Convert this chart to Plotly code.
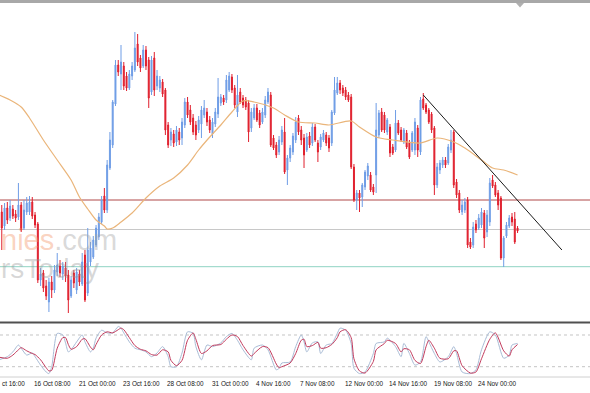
import plotly.graph_objects as go

# ---------------- data ----------------
bars = list(range(188))
opens = [1.1617,1.1588,1.1574,1.1592,1.1582,1.1591,1.1586,1.1583,1.1595,1.1572,
 1.1588,1.1588,1.1598,1.1585,1.1576,1.1520,1.1527,1.1514,1.1498,1.1518,
 1.1510,1.1528,1.1534,1.1526,1.1532,1.1525,1.1504,1.1527,1.1510,1.1526,
 1.1516,1.1545,1.1507,1.1538,1.1543,1.1555,1.1563,1.1578,1.1604,1.1590,
 1.1632,1.1655,1.1696,1.1735,1.1726,1.1734,1.1724,1.1712,1.1724,1.1730,
 1.1756,1.1742,1.1734,1.1750,1.1740,1.1708,1.1742,1.1714,1.1712,1.1718,
 1.1710,1.1675,1.1660,1.1666,1.1658,1.1668,1.1662,1.1675,1.1698,1.1690,
 1.1682,1.1675,1.1670,1.1676,1.1685,1.1688,1.1680,1.1666,1.1676,1.1686,
 1.1697,1.1702,1.1700,1.1710,1.1723,1.1712,1.1688,1.1708,1.1702,1.1700,
 1.1697,1.1672,1.1682,1.1692,1.1687,1.1678,1.1685,1.1698,1.1705,1.1662,
 1.1655,1.1648,1.1658,1.1668,1.1630,1.1642,1.1648,1.1660,1.1682,1.1670,
 1.1662,1.1650,1.1664,1.1657,1.1673,1.1657,1.1653,1.1660,1.1665,1.1662,
 1.1657,1.1687,1.1707,1.1717,1.1712,1.1710,1.1705,1.1703,1.1633,1.1600,
 1.1607,1.1603,1.1613,1.1624,1.1625,1.1613,1.1625,1.1665,1.1688,1.1685,
 1.1668,1.1673,1.1653,1.1650,1.1677,1.1670,1.1658,1.1667,1.1657,1.1650,
 1.1650,1.1672,1.1648,1.1701,1.1695,1.1690,1.1686,1.1672,1.1615,1.1630,
 1.1635,1.1640,1.1637,1.1650,1.1668,1.1618,1.1607,1.1588,1.1590,1.1600,
 1.1558,1.1555,1.1576,1.1572,1.1575,1.1587,1.1568,1.1578,1.1620,1.1615,
 1.1607,1.1602,1.1542,1.1564,1.1574,1.1583,1.1581,1.1572]
highs = [1.1622,1.1595,1.1597,1.1598,1.1600,1.1595,1.1590,1.1617,1.1598,1.1600,
 1.1603,1.1604,1.1603,1.1588,1.1578,1.1532,1.1530,1.1520,1.1522,1.1524,
 1.1535,1.1547,1.1540,1.1538,1.1538,1.1530,1.1524,1.1530,1.1532,1.1530,
 1.1547,1.1550,1.1572,1.1558,1.1564,1.1575,1.1587,1.1604,1.1612,1.1640,
 1.1668,1.1700,1.1740,1.1740,1.1755,1.1738,1.1728,1.1730,1.1738,1.1768,
 1.1766,1.1745,1.1755,1.1754,1.1743,1.1744,1.1748,1.1730,1.1724,1.1721,
 1.1712,1.1678,1.1672,1.1670,1.1674,1.1672,1.1682,1.1702,1.1703,1.1695,
 1.1686,1.1679,1.1684,1.1694,1.1700,1.1692,1.1684,1.1682,1.1692,1.1722,
 1.1706,1.1705,1.1725,1.1728,1.1726,1.1715,1.1725,1.1712,1.1705,1.1703,
 1.1700,1.1692,1.1696,1.1696,1.1690,1.1692,1.1704,1.1712,1.1708,1.1665,
 1.1658,1.1664,1.1674,1.1682,1.1645,1.1655,1.1667,1.1683,1.1685,1.1674,
 1.1666,1.1667,1.1668,1.1677,1.1676,1.1660,1.1666,1.1670,1.1668,1.1665,
 1.1690,1.1723,1.1723,1.1720,1.1715,1.1713,1.1708,1.1706,1.1636,1.1610,
 1.1610,1.1617,1.1630,1.1637,1.1628,1.1616,1.1697,1.1690,1.1692,1.1688,
 1.1682,1.1676,1.1656,1.1690,1.1680,1.1673,1.1672,1.1670,1.1660,1.1669,
 1.1682,1.1675,1.1703,1.1707,1.1697,1.1692,1.1688,1.1674,1.1637,1.1640,
 1.1643,1.1643,1.1656,1.1670,1.1670,1.1621,1.1610,1.1600,1.1602,1.1603,
 1.1562,1.1578,1.1580,1.1586,1.1592,1.1590,1.1590,1.1622,1.1625,1.1618,
 1.1610,1.1604,1.1564,1.1578,1.1585,1.1587,1.1588,1.1574]
lows = [1.1578,1.1550,1.1570,1.1576,1.1579,1.1581,1.1578,1.1580,1.1568,1.1570,
 1.1585,1.1585,1.1581,1.1572,1.1517,1.1514,1.1508,1.1500,1.1488,1.1502,
 1.1507,1.1524,1.1523,1.1520,1.1518,1.1487,1.1502,1.1512,1.1506,1.1514,
 1.1514,1.1498,1.1504,1.1534,1.1541,1.1553,1.1560,1.1576,1.1587,1.1587,
 1.1630,1.1652,1.1694,1.1724,1.1710,1.1710,1.1709,1.1710,1.1720,1.1728,
 1.1734,1.1728,1.1732,1.1730,1.1692,1.1705,1.1704,1.1710,1.1708,1.1703,
 1.1665,1.1652,1.1654,1.1653,1.1654,1.1655,1.1655,1.1672,1.1682,1.1675,
 1.1665,1.1660,1.1667,1.1662,1.1682,1.1674,1.1667,1.1662,1.1673,1.1682,
 1.1694,1.1695,1.1697,1.1708,1.1707,1.1692,1.1683,1.1696,1.1692,1.1690,
 1.1658,1.1668,1.1680,1.1678,1.1672,1.1676,1.1682,1.1696,1.1653,1.1650,
 1.1642,1.1645,1.1655,1.1626,1.1615,1.1638,1.1645,1.1657,1.1665,1.1655,
 1.1632,1.1648,1.1652,1.1654,1.1658,1.1638,1.1650,1.1658,1.1654,1.1648,
 1.1654,1.1685,1.1705,1.1706,1.1704,1.1700,1.1698,1.1631,1.1598,1.1590,
 1.1588,1.1593,1.1610,1.1620,1.1608,1.1605,1.1607,1.1662,1.1668,1.1667,
 1.1665,1.1643,1.1645,1.1648,1.1665,1.1658,1.1656,1.1651,1.1641,1.1648,
 1.1645,1.1643,1.1645,1.1690,1.1686,1.1676,1.1667,1.1605,1.1612,1.1626,
 1.1632,1.1632,1.1635,1.1647,1.1612,1.1602,1.1587,1.1585,1.1587,1.1552,
 1.1551,1.1552,1.1567,1.1570,1.1572,1.1552,1.1563,1.1574,1.1612,1.1603,
 1.1590,1.1540,1.1533,1.1562,1.1572,1.1574,1.1556,1.1567]
closes = [1.1582,1.1572,1.1592,1.1580,1.1594,1.1584,1.1582,1.1595,1.1570,1.1590,
 1.1597,1.1598,1.1584,1.1575,1.1520,1.1526,1.1512,1.1504,1.1518,1.1510,
 1.1530,1.1535,1.1527,1.1534,1.1524,1.1500,1.1520,1.1517,1.1528,1.1518,
 1.1538,1.1500,1.1550,1.1552,1.1560,1.1572,1.1583,1.1600,1.1590,1.1635,
 1.1660,1.1698,1.1735,1.1728,1.1738,1.1714,1.1712,1.1726,1.1734,1.1752,
 1.1738,1.1732,1.1750,1.1734,1.1702,1.1740,1.1710,1.1724,1.1720,1.1706,
 1.1670,1.1655,1.1668,1.1657,1.1670,1.1660,1.1678,1.1698,1.1685,1.1678,
 1.1668,1.1665,1.1680,1.1690,1.1692,1.1678,1.1670,1.1678,1.1688,1.1703,
 1.1703,1.1698,1.1720,1.1724,1.1710,1.1695,1.1705,1.1698,1.1695,1.1693,
 1.1668,1.1688,1.1692,1.1680,1.1675,1.1688,1.1700,1.1708,1.1655,1.1652,
 1.1645,1.1660,1.1670,1.1628,1.1642,1.1652,1.1664,1.1678,1.1668,1.1660,
 1.1645,1.1663,1.1655,1.1673,1.1660,1.1648,1.1663,1.1667,1.1657,1.1652,
 1.1688,1.1710,1.1717,1.1710,1.1707,1.1703,1.1700,1.1633,1.1600,1.1607,
 1.1602,1.1615,1.1628,1.1634,1.1610,1.1608,1.1670,1.1687,1.1670,1.1670,
 1.1680,1.1647,1.1647,1.1677,1.1667,1.1660,1.1670,1.1653,1.1643,1.1667,
 1.1678,1.1650,1.1700,1.1692,1.1688,1.1678,1.1670,1.1615,1.1633,1.1637,
 1.1640,1.1635,1.1653,1.1660,1.1615,1.1605,1.1590,1.1595,1.1598,1.1555,
 1.1553,1.1573,1.1570,1.1582,1.1588,1.1562,1.1585,1.1617,1.1614,1.1605,
 1.1595,1.1542,1.1562,1.1575,1.1582,1.1578,1.1558,1.1569]

# moving average
ma_bars = [0,4,8,11,16,21,26,29,32,35,38,39,41,44,48,53,58,63,68,72,76,80,84,88,92,99,
           103,108,114,119,127,130,136,142,152,158,164,168,174,178,182,187]
ma_values = [1.1705,1.1700,1.1693,1.1682,1.1660,1.1640,1.1620,1.1603,1.1591,1.1580,1.1574,
             1.1571,1.1572,1.1578,1.1587,1.1602,1.1614,1.1622,1.1635,1.1650,1.1663,1.1675,
             1.1688,1.1699,1.1698,1.1692,1.1685,1.1678,1.1677,1.1675,1.1679,1.1673,1.1663,
             1.1660,1.1657,1.1662,1.1658,1.1652,1.1640,1.1632,1.1630,1.1625]

# horizontal levels and trend line
level_prices = [1.1600, 1.15705, 1.15333]
level_colors = ["#b04848", "#c8c8c8", "#8fd3c3"]
trend_bars = [153, 203]
trend_prices = [1.1705, 1.1550]

# stochastic oscillator
stoch_bars = [0,3,5,7,8,10,12,13,15,17,18,19,21,23,24,25,26,28,30,31,33,34,35,37,39,41,43,44,45,47,
              49,51,53,55,57,59,61,62,64,66,68,70,71,73,75,77,80,82,84,86,88,91,92,95,97,100,101,102,
              105,107,109,110,111,113,115,116,118,120,122,123,125,127,128,130,132,135,136,139,140,143,
              145,146,148,150,152,154,155,157,159,162,164,165,167,170,172,174,177,179,182,184,185,187]
stoch_main = [33,39,48,61,55,42,46,39,23,10,7,20,83,80,65,48,52,67,80,67,48,55,74,89,84,84,96,93,84,67,
              55,52,48,39,46,58,39,20,20,46,86,83,58,33,61,58,65,77,83,70,52,33,55,61,52,14,17,27,
              29,58,80,67,48,65,67,45,61,64,83,93,89,64,17,7,10,45,64,67,74,58,
              39,64,45,23,29,77,67,45,29,39,58,45,10,7,14,52,86,80,36,42,61,64]
stoch_signal = [38,36,42,52,56,50,45,43,33,18,12,13,55,75,75,62,53,58,72,73,57,52,62,80,86,84,90,93,90,75,
                60,53,50,43,42,52,48,32,22,32,70,84,72,45,50,60,62,72,80,77,60,40,45,58,56,25,18,20,
                27,45,70,72,58,60,66,55,56,62,75,86,90,75,35,12,8,30,52,64,70,64,
                48,54,52,32,26,58,70,55,36,35,50,50,22,8,10,35,72,84,50,40,52,62]
stoch_levels = [20, 80]

# time labels (the first one is only partly inside the window, as in the source)
tick_bars = [12, 28, 44, 60, 76, 92, 108, 124, 140, 156, 172]
tick_labels = ["16 Oct 08:00", "21 Oct 00:00", "23 Oct 16:00", "28 Oct 08:00",
               "31 Oct 00:00", "4 Nov 16:00", "7 Nov 08:00", "12 Nov 00:00", "14 Nov 16:00",
               "19 Nov 08:00", "24 Nov 00:00"]
edge_label = "ct 16:00"

# ---------------- layout helpers ----------------
W, H = 590, 393
PLOT_H = 377            # plot area height (bottom margin holds the time labels)
BAR_PX = 2.773          # pixel step between bars
BAR0_PX = -1.0          # pixel x of bar 0

def py(p):              # pixel row -> paper y
    return (PLOT_H - p) / PLOT_H

def px(p):              # pixel col -> paper x
    return p / W

def bar_paper(b):       # bar index -> paper x (same scale as the x axes)
    return (BAR0_PX + b * BAR_PX) / W

x_range = [(0 - BAR0_PX) / BAR_PX, (W - BAR0_PX) / BAR_PX]

fig = go.Figure()

fig.add_trace(go.Candlestick(
    x=bars, open=opens, high=highs, low=lows, close=closes,
    increasing=dict(line=dict(color="#6f9de6", width=1), fillcolor="#6f9de6"),
    decreasing=dict(line=dict(color="#e01f2d", width=1), fillcolor="#e01f2d"),
    whiskerwidth=0, hoverinfo="skip", showlegend=False,
    xaxis="x", yaxis="y"))

fig.add_trace(go.Scatter(
    x=ma_bars, y=ma_values, mode="lines",
    line=dict(color="#eab57a", width=1.2, shape="spline", smoothing=0.8),
    hoverinfo="skip", showlegend=False, xaxis="x", yaxis="y"))

fig.add_trace(go.Scatter(
    x=trend_bars, y=trend_prices, mode="lines",
    line=dict(color="#1a1a1a", width=1),
    hoverinfo="skip", showlegend=False, xaxis="x", yaxis="y"))

fig.add_trace(go.Scatter(
    x=stoch_bars, y=stoch_main, mode="lines",
    line=dict(color="#a9bcd6", width=1, shape="spline", smoothing=0.7),
    hoverinfo="skip", showlegend=False, xaxis="x2", yaxis="y2"))
fig.add_trace(go.Scatter(
    x=stoch_bars, y=stoch_signal, mode="lines",
    line=dict(color="#c23a5c", width=1, shape="spline", smoothing=0.7),
    hoverinfo="skip", showlegend=False, xaxis="x2", yaxis="y2"))

shapes = []
for price, col in zip(level_prices, level_colors):
    shapes.append(dict(type="line", xref="paper", yref="y", x0=0, x1=1, y0=price, y1=price,
                       line=dict(color=col, width=1), layer="below"))
for lv in stoch_levels:
    shapes.append(dict(type="line", xref="paper", yref="y2", x0=0, x1=1, y0=lv, y1=lv,
                       line=dict(color="#c4c4c4", width=1, dash="dot"), layer="below"))
# window frame pieces
shapes.append(dict(type="line", xref="paper", yref="paper", x0=0, x1=1, y0=py(1.5), y1=py(1.5),
                   line=dict(color="#a8a8a8", width=3)))
shapes.append(dict(type="line", xref="paper", yref="paper", x0=0, x1=1, y0=py(322.5), y1=py(322.5),
                   line=dict(color="#505050", width=2)))
shapes.append(dict(type="line", xref="paper", yref="paper", x0=0, x1=1, y0=py(377), y1=py(377),
                   line=dict(color="#d0d0d0", width=1)))
shapes.append(dict(type="path", xref="paper", yref="paper",
                   path=f"M {px(516)},{py(3)} L {px(524)},{py(3)} L {px(520)},{py(7.5)} Z",
                   fillcolor="#b0b0b0", line=dict(width=0)))

label_font = dict(family="Liberation Sans, Arial", size=6.4, color="#151515")
annotations = []
for b, t in zip(tick_bars, tick_labels):
    annotations.append(dict(x=bar_paper(b), y=py(383), xref="paper", yref="paper", text=t,
                            showarrow=False, xanchor="left", yanchor="middle", font=label_font))
annotations.append(dict(x=0, y=py(383), xref="paper", yref="paper", text=edge_label,
                        showarrow=False, xanchor="left", yanchor="middle", font=label_font))
# watermark (only its visible part)
annotations.append(dict(x=px(-1), y=py(240), xref="paper", yref="paper", showarrow=False,
                        xanchor="left", yanchor="middle",
                        text="<span style='color:rgba(243,150,105,0.42)'>nies</span>"
                             "<span style='color:rgba(165,165,165,0.42)'>.com</span>",
                        font=dict(family="Liberation Sans", size=29)))
annotations.append(dict(x=px(-1), y=py(269), xref="paper", yref="paper", showarrow=False,
                        xanchor="left", yanchor="middle", text="rsToday",
                        font=dict(family="Liberation Sans", size=28, color="rgba(150,150,150,0.38)")))

fig.update_layout(
    width=W, height=H,
    margin=dict(l=0, r=0, t=0, b=H - PLOT_H, pad=0),
    paper_bgcolor="white", plot_bgcolor="white",
    showlegend=False, boxgap=0.5,
    xaxis=dict(domain=[0, 1], range=x_range, showgrid=False, zeroline=False, showticklabels=False,
               rangeslider=dict(visible=False), anchor="y", fixedrange=True),
    yaxis=dict(domain=[py(321), py(0)], range=[1.1479, 1.1800], showgrid=False, zeroline=False,
               showticklabels=False, fixedrange=True),
    xaxis2=dict(domain=[0, 1], range=x_range, showgrid=False, zeroline=False, showticklabels=False,
                anchor="y2", fixedrange=True),
    yaxis2=dict(domain=[0, py(324)], range=[0.5, 100.8], showgrid=False, zeroline=False,
                showticklabels=False, fixedrange=True),
    shapes=shapes, annotations=annotations,
)

fig.write_html("out.html", config={"displayModeBar": False})
